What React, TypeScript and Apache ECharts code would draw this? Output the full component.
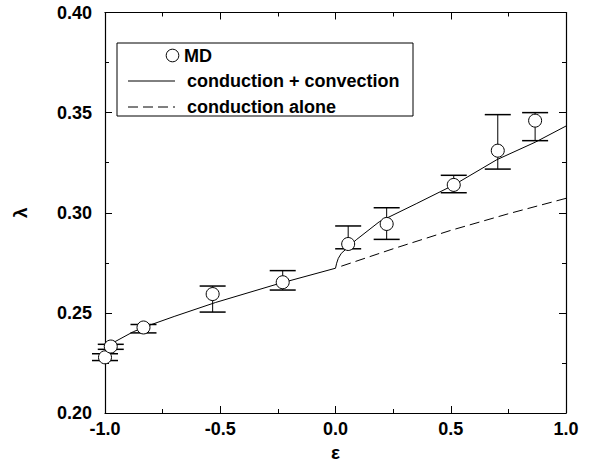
import React, { useEffect, useRef } from "react";
import * as echarts from "echarts";

// MD data points (epsilon, lambda) with error-bar extents
const mdEps = [-1.0, -0.975, -0.833, -0.533, -0.229, 0.055, 0.222, 0.513, 0.704, 0.866];
const mdLambda = [0.2278, 0.2332, 0.2427, 0.2594, 0.2653, 0.2844, 0.2944, 0.3139, 0.331, 0.346];
const mdLow = [0.2262, 0.2318, 0.24, 0.2504, 0.2614, 0.282, 0.2867, 0.31, 0.3218, 0.336];
const mdHigh = [0.2296, 0.2343, 0.2442, 0.2634, 0.2711, 0.2934, 0.3025, 0.3187, 0.349, 0.35];

// conduction + convection (solid)
const convEps = [-0.98, -0.957, -0.877, -0.805, -0.7, -0.52, -0.255, 0.0, 0.005, 0.012, 0.025, 0.045, 0.09, 0.19, 0.35, 0.514, 0.7, 0.866, 1.0];
const convLambda = [0.2335, 0.2356, 0.2406, 0.2439, 0.2482, 0.2552, 0.2643, 0.2723, 0.2748, 0.2772, 0.2797, 0.2818, 0.2865, 0.2955, 0.3045, 0.3139, 0.3265, 0.3352, 0.3433];

// conduction alone (dashed)
const condEps = [0.025, 0.25, 0.5, 0.75, 1.0];
const condLambda = [0.2733, 0.282, 0.2912, 0.2995, 0.3072];

const xMin = -1.0, xMax = 1.0, xStep = 0.5;
const yMin = 0.2, yMax = 0.4, yStep = 0.05;

const legendLabels = ["MD", "conduction + convection", "conduction alone"];
const xName = "ε";
const yName = "λ";

const FONT = '"Liberation Sans", Arial, Helvetica, sans-serif';

export default function App() {
  const ref = useRef<HTMLDivElement>(null);
  useEffect(() => {
    if (!ref.current) return;
    const chart = echarts.init(ref.current, null, { renderer: "svg" });
    const axisLine = { show: true, onZero: false, lineStyle: { color: "#000", width: 1.2 } };
    const tick = { show: true, inside: true, length: 7, lineStyle: { color: "#000", width: 1 } };
    const minor = { show: true, splitNumber: 2, length: 4, lineStyle: { color: "#000", width: 1 } };
    const labelStyle = { color: "#000", fontFamily: FONT, fontSize: 18, fontWeight: "bold" as const };
    const option: any = {
      animation: false,
      backgroundColor: "#fff",
      grid: { left: 105, top: 12.5, right: 29, bottom: 55, containLabel: false },
      xAxis: [
        {
          type: "value", min: xMin, max: xMax, interval: xStep, position: "bottom",
          axisLine, axisTick: tick, minorTick: minor, splitLine: { show: false },
          axisLabel: { ...labelStyle, margin: 7, formatter: (v: number) => v.toFixed(1) },
          name: xName, nameLocation: "middle", nameGap: 23,
          nameTextStyle: { color: "#000", fontFamily: FONT, fontSize: 19, fontWeight: "bold" },
        },
        {
          type: "value", min: xMin, max: xMax, interval: xStep, position: "top",
          axisLine, axisTick: tick, minorTick: minor, splitLine: { show: false },
          axisLabel: { show: false },
        },
      ],
      yAxis: [
        {
          type: "value", min: yMin, max: yMax, interval: yStep, position: "left",
          axisLine, axisTick: tick, minorTick: minor, splitLine: { show: false },
          axisLabel: { ...labelStyle, margin: 13, formatter: (v: number) => v.toFixed(2) },
          name: yName, nameLocation: "middle", nameGap: 75, nameRotate: 90,
          nameTextStyle: { color: "#000", fontFamily: FONT, fontSize: 19, fontWeight: "bold" },
        },
        {
          type: "value", min: yMin, max: yMax, interval: yStep, position: "right",
          axisLine, axisTick: tick, minorTick: minor, splitLine: { show: false },
          axisLabel: { show: false },
        },
      ],
      series: [
        {
          name: legendLabels[1], type: "line", xAxisIndex: 0, yAxisIndex: 0,
          data: convEps.map((e, i) => [e, convLambda[i]]),
          showSymbol: false, symbol: "none", smooth: false,
          lineStyle: { color: "#000", width: 1 }, z: 2,
        },
        {
          name: legendLabels[2], type: "line", xAxisIndex: 0, yAxisIndex: 0,
          data: condEps.map((e, i) => [e, condLambda[i]]),
          showSymbol: false, symbol: "none", smooth: false,
          lineStyle: { color: "#000", width: 1, type: [10, 5] }, z: 2,
        },
        {
          name: "errors", type: "custom", xAxisIndex: 0, yAxisIndex: 0, clip: false, z: 3,
          data: mdEps.map((e, i) => [e, mdLow[i], mdHigh[i]]),
          encode: { x: 0, y: [1, 2] },
          renderItem: (_params: any, api: any) => {
            const x = api.value(0);
            const pLo = api.coord([x, api.value(1)]);
            const pHi = api.coord([x, api.value(2)]);
            const w = 13;
            const stem = { stroke: "#000", lineWidth: 1 };
            const cap = { stroke: "#000", lineWidth: 1.5 };
            return {
              type: "group",
              children: [
                { type: "line", shape: { x1: pLo[0], y1: pLo[1], x2: pHi[0], y2: pHi[1] }, style: stem },
                { type: "line", shape: { x1: pLo[0] - w, y1: pLo[1], x2: pLo[0] + w, y2: pLo[1] }, style: cap },
                { type: "line", shape: { x1: pHi[0] - w, y1: pHi[1], x2: pHi[0] + w, y2: pHi[1] }, style: cap },
              ],
            };
          },
        },
        {
          name: legendLabels[0], type: "scatter", xAxisIndex: 0, yAxisIndex: 0, clip: false, z: 4,
          data: mdEps.map((e, i) => [e, mdLambda[i]]),
          symbol: "circle", symbolSize: 13,
          itemStyle: { color: "#fff", borderColor: "#000", borderWidth: 1, opacity: 1 },
        },
      ],
      graphic: [
        {
          type: "group", z: 100,
          children: [
            { type: "rect", shape: { x: 117, y: 43, width: 296, height: 73 }, style: { fill: "#fff", stroke: "#000", lineWidth: 1 } },
            { type: "circle", shape: { cx: 172.5, cy: 55.5, r: 6.3 }, style: { fill: "#fff", stroke: "#000", lineWidth: 1 } },
            { type: "text", x: 184, y: 56, style: { text: legendLabels[0], fill: "#000", fontFamily: FONT, fontSize: 18, fontWeight: "bold", verticalAlign: "middle", align: "left" } },
            { type: "line", shape: { x1: 128, y1: 81, x2: 175, y2: 81 }, style: { stroke: "#000", lineWidth: 1 } },
            { type: "text", x: 187, y: 81, style: { text: legendLabels[1], fill: "#000", fontFamily: FONT, fontSize: 18, fontWeight: "bold", verticalAlign: "middle", align: "left" } },
            { type: "line", shape: { x1: 128, y1: 107, x2: 175, y2: 107 }, style: { stroke: "#000", lineWidth: 1, lineDash: [10, 5] } },
            { type: "text", x: 187, y: 107, style: { text: legendLabels[2], fill: "#000", fontFamily: FONT, fontSize: 18, fontWeight: "bold", verticalAlign: "middle", align: "left" } },
          ],
        },
      ],
    };
    chart.setOption(option);
    return () => chart.dispose();
  }, []);
  return <div ref={ref} style={{ position: "fixed", left: 0, top: 0, width: 595, height: 468, background: "#fff" }} />;
}
